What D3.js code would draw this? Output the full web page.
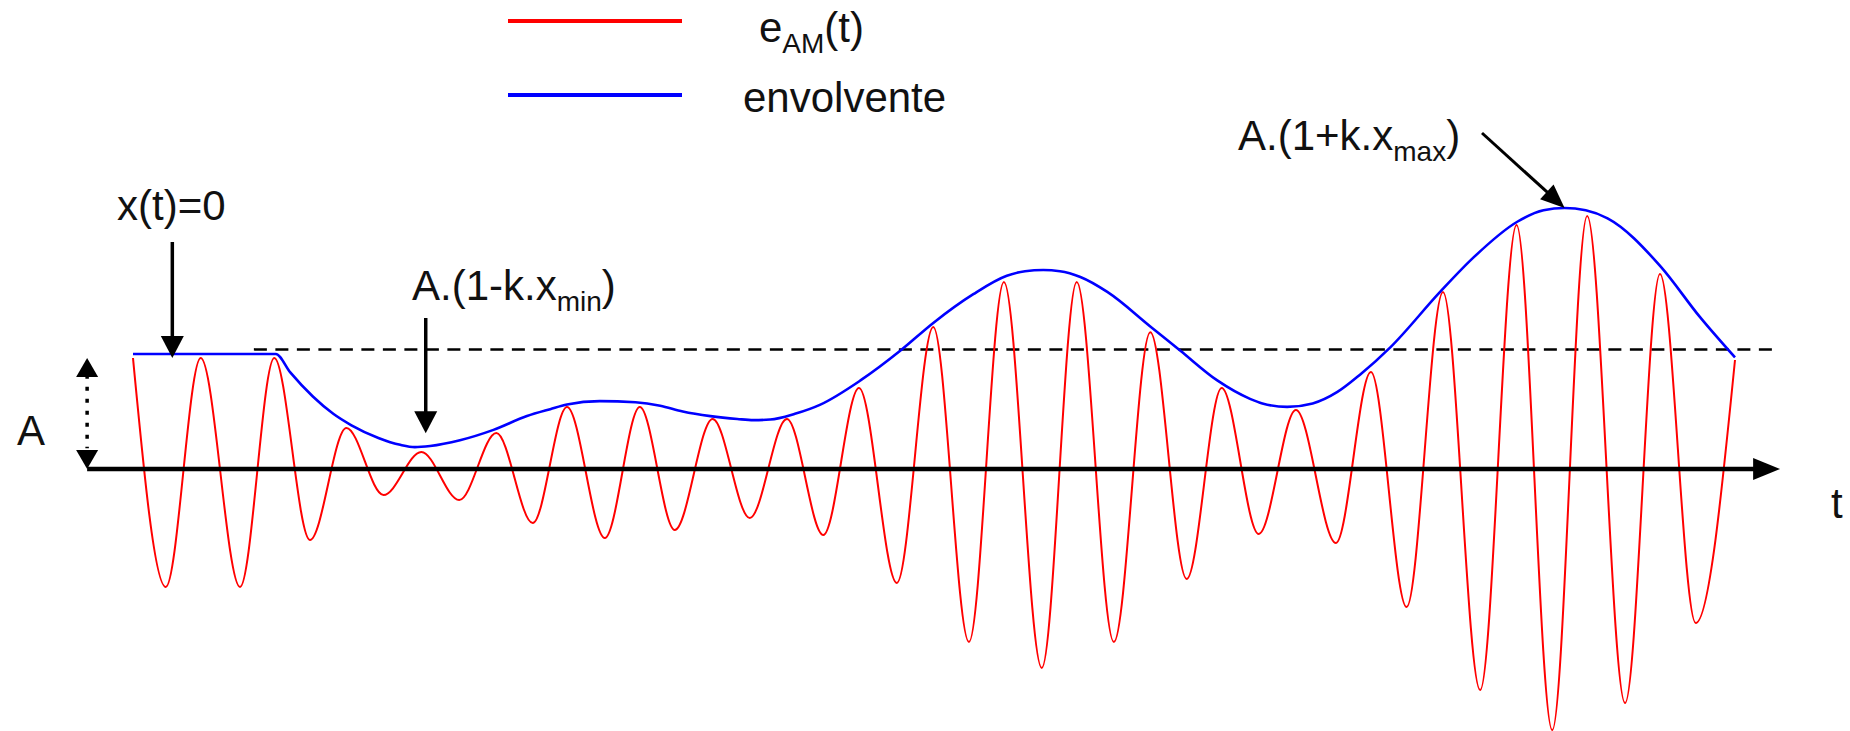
<!DOCTYPE html>
<html>
<head>
<meta charset="utf-8">
<script src="https://cdn.jsdelivr.net/npm/d3@7"></script>
<style>
  html, body { margin: 0; padding: 0; background: #fff; }
  svg { display: block; }
  text { font-family: "Liberation Sans", Arial, Helvetica, sans-serif; fill: #111; }
</style>
</head>
<body>
<svg id="chart"></svg>
<script>
// e_AM(t): time of each crest / trough (in carrier periods) and its value (in units of A)
var carrierT = [0, 0.45, 0.93, 1.47, 1.94, 2.43, 2.93, 3.44, 3.96, 4.48, 4.99, 5.49, 5.96, 6.48, 6.96,
    7.44, 7.96, 8.47, 8.98, 9.48, 9.97, 10.49, 10.99, 11.48, 11.96, 12.48, 12.96, 13.47, 13.97, 14.47,
    14.95, 15.46, 15.97, 16.52, 17.0, 17.49, 17.99, 18.5, 19.0, 19.49, 19.97, 20.49, 20.97, 21.46, 22.0];
var carrierV = [0.965, -1.026, 0.965, -1.026, 0.965, -0.617, 0.357, -0.226, 0.148, -0.27, 0.313, -0.47,
    0.539, -0.6, 0.539, -0.53, 0.435, -0.426, 0.435, -0.574, 0.704, -0.991, 1.235, -1.504, 1.626, -1.73,
    1.626, -1.504, 1.19, -0.957, 0.704, -0.565, 0.513, -0.643, 0.843, -1.2, 1.539, -1.922, 2.122, -2.27,
    2.2, -2.035, 1.696, -1.339, 0.948];

// envolvente A.(1+k.x(t))
var envT = [0, 1.96, 2.16, 2.47, 2.75, 3.0, 3.37, 3.67, 3.87, 4.08, 4.49, 4.95, 5.41, 5.73, 5.96, 6.41,
    6.9, 7.24, 7.55, 7.93, 8.3, 8.52, 8.75, 9.09, 9.44, 9.99, 10.54, 10.99, 11.54, 12.0, 12.25, 12.5,
    12.73, 13.01, 13.38, 13.97, 14.38, 14.89, 15.34, 15.51, 15.85, 16.2, 16.54, 16.85, 17.27, 17.95,
    18.41, 19.01, 19.37, 19.66, 19.95, 20.25, 20.98, 21.52, 22.0];
var envV = [1.0, 1.0, 0.84, 0.63, 0.48, 0.38, 0.27, 0.21, 0.19, 0.2, 0.25, 0.34, 0.46, 0.52, 0.56, 0.59,
    0.58, 0.55, 0.5, 0.46, 0.435, 0.425, 0.43, 0.48, 0.56, 0.77, 1.03, 1.27, 1.52, 1.68, 1.72, 1.73,
    1.72, 1.67, 1.54, 1.24, 1.03, 0.77, 0.61, 0.57, 0.54, 0.57, 0.67, 0.82, 1.06, 1.54,
    1.84, 2.15, 2.25, 2.27, 2.25, 2.18, 1.76, 1.32, 0.97];

var refLevel = 1.04;      // dashed line, level A
var tMin = 4.02;          // where x(t) is minimum
var tMax = 19.66;         // where x(t) is maximum

var width = 1850, height = 731;
var red = '#ff0000', blue = '#0000ff';

var x = d3.scaleLinear().domain([0, 22]).range([133, 1735]);
var y = d3.scaleLinear().domain([0, 1]).range([469, 354]);

var svg = d3.select('#chart').attr('width', width).attr('height', height);
svg.append('rect').attr('width', width).attr('height', height).attr('fill', '#fff');

function head(g, x1, y1, x2, y2, len, half) {
    // filled triangle with its tip at (x2, y2)
    var a = Math.atan2(y2 - y1, x2 - x1);
    var bx = x2 - len * Math.cos(a), by = y2 - len * Math.sin(a);
    var px = -Math.sin(a) * half, py = Math.cos(a) * half;
    g.append('path')
        .attr('d', 'M' + x2 + ',' + y2 + 'L' + (bx + px) + ',' + (by + py) +
            'L' + (bx - px) + ',' + (by - py) + 'Z')
        .attr('fill', '#000');
}

function arrow(g, x1, y1, x2, y2, w, len, half) {
    var a = Math.atan2(y2 - y1, x2 - x1);
    g.append('line')
        .attr('x1', x1).attr('y1', y1)
        .attr('x2', x2 - (len - 2) * Math.cos(a)).attr('y2', y2 - (len - 2) * Math.sin(a))
        .attr('stroke', '#000').attr('stroke-width', w);
    head(g, x1, y1, x2, y2, len, half);
}

// dashed reference at A
svg.append('line')
    .attr('x1', x(1.66)).attr('x2', x(22.56))
    .attr('y1', y(refLevel)).attr('y2', y(refLevel))
    .attr('stroke', '#000').attr('stroke-width', 2.5)
    .attr('stroke-dasharray', '13,8.5');

// e_AM(t)
var carrier = carrierT.map(function (t, i) { return [t, carrierV[i]]; });
var line = d3.line()
    .x(function (d) { return x(d[0]); })
    .y(function (d) { return y(d[1]); })
    .curve(d3.curveMonotoneX);

svg.append('path')
    .attr('d', line(carrier))
    .attr('fill', 'none')
    .attr('stroke', red)
    .attr('stroke-width', 2);

// time axis
var axis = svg.append('g');
arrow(axis, x(-0.63), y(0), x(22.62), y(0), 4.5, 27, 11);

// envelope
var env = envT.map(function (t, i) { return [t, envV[i]]; });
svg.append('path')
    .attr('d', line(env))
    .attr('fill', 'none')
    .attr('stroke', blue)
    .attr('stroke-width', 2.6);

// A: double dotted arrow
var ann = svg.append('g');
var ax = x(-0.63);
ann.append('line')
    .attr('x1', ax).attr('x2', ax)
    .attr('y1', y(0.82)).attr('y2', y(0.18))
    .attr('stroke', '#000').attr('stroke-width', 3.5)
    .attr('stroke-dasharray', '4,8');
head(ann, ax, y(0.5), ax, y(0.965), 19, 11);
head(ann, ax, y(0.5), ax, y(0), 19, 11);

// x(t)=0
arrow(ann, x(0.54), 242, x(0.54), y(0.965), 3.5, 22, 11.5);
// A.(1-k.xmin)
arrow(ann, x(tMin), 318, x(tMin), y(0.31), 3.5, 22, 11.5);
// A.(1+k.xmax)
arrow(ann, 1482, 133, x(tMax), y(2.27), 3, 24, 10);

// texts
var fs = 42, fsSub = 28;
function label(xp, yp, main, sub, tail) {
    var t = svg.append('text').attr('x', xp).attr('y', yp).style('font-size', fs + 'px');
    t.append('tspan').text(main);
    if (sub) {
        t.append('tspan').attr('dy', 11).style('font-size', fsSub + 'px').text(sub);
        t.append('tspan').attr('dy', -11).text(tail);
    }
    return t;
}

label(117, 220, 'x(t)=0');
label(412, 300, 'A.(1-k.x', 'min', ')');
label(1238, 150, 'A.(1+k.x', 'max', ')');
label(17, 445, 'A');
label(1831, 518, 't');

// legend
var legend = [
    { main: 'e', sub: 'AM', tail: '(t)', color: red, ly: 21, tx: 759, ty: 42 },
    { main: 'envolvente', color: blue, ly: 95, tx: 743, ty: 112 }
];
legend.forEach(function (d) {
    svg.append('line')
        .attr('x1', 508).attr('x2', 682)
        .attr('y1', d.ly).attr('y2', d.ly)
        .attr('stroke', d.color).attr('stroke-width', 4);
    label(d.tx, d.ty, d.main, d.sub, d.tail);
});
</script>
</body>
</html>
